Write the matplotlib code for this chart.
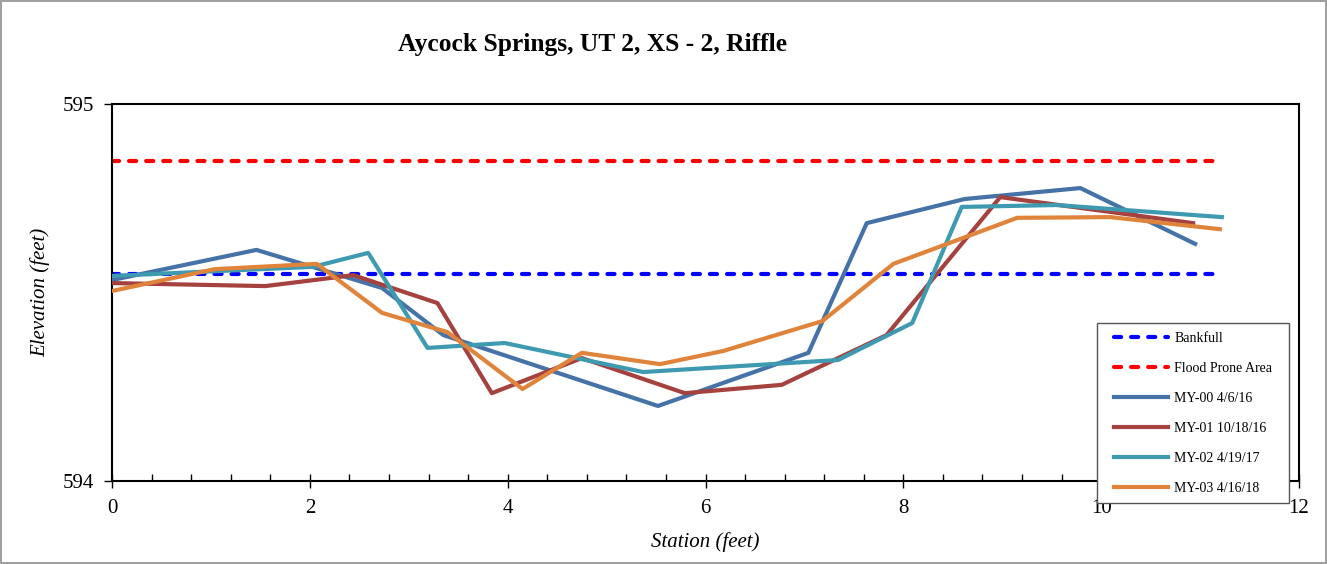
import numpy as np
import matplotlib
matplotlib.use("Agg")
import matplotlib.pyplot as plt
from matplotlib.patches import Rectangle
from matplotlib.ticker import MultipleLocator

plt.rcParams['font.family'] = ['Liberation Serif', 'DejaVu Serif']

# reference elevations (feet)
bankfull_x = [0, 11.13]
bankfull_y = [594.549, 594.549]
flood_x = [0, 11.13]
flood_y = [594.849, 594.849]

# surveyed cross sections: station (ft) and elevation (ft)
my00_x = [0, 1.46, 2.73, 3.35, 5.52, 7.04, 7.63, 8.62, 9.79, 10.95]
my00_y = [594.533, 594.613, 594.512, 594.387, 594.199, 594.340, 594.684, 594.748, 594.777, 594.629]

my01_x = [0, 1.55, 2.44, 3.29, 3.84, 4.75, 5.79, 6.77, 7.83, 8.98, 10.93]
my01_y = [594.525, 594.517, 594.546, 594.472, 594.233, 594.326, 594.233, 594.255, 594.387, 594.753, 594.684]

my02_x = [0, 1.0, 2.03, 2.59, 3.19, 3.97, 5.37, 7.34, 8.09, 8.59, 9.55, 11.22]
my02_y = [594.544, 594.556, 594.568, 594.605, 594.353, 594.366, 594.289, 594.321, 594.419, 594.727, 594.732, 594.700]

my03_x = [0, 1.04, 2.07, 2.73, 3.39, 4.15, 4.75, 5.54, 6.18, 7.18, 7.90, 9.15, 10.09, 11.20]
my03_y = [594.504, 594.562, 594.576, 594.446, 594.395, 594.244, 594.340, 594.310, 594.345, 594.424, 594.576, 594.698, 594.700, 594.668]

W, H = 1327, 564
fig = plt.figure(figsize=(W / 100, H / 100), dpi=100)
fig.patch.set_edgecolor('#a0a0a0')
fig.patch.set_linewidth(1.5)
ax = fig.add_axes([112 / W, 1 - 481 / H, 1187 / W, 377 / H])

dash = (1.7, 2.4)
ax.plot(bankfull_x, bankfull_y, color='#0000ff', lw=3, ls=(0, dash),
        dash_capstyle='round', label='Bankfull', zorder=2)
ax.plot(flood_x, flood_y, color='#ff0000', lw=3, ls=(0, dash),
        dash_capstyle='round', label='Flood Prone Area', zorder=2)
ax.plot(my00_x, my00_y, color='#4572a7', lw=3, label='MY-00 4/6/16', zorder=3)
ax.plot(my01_x, my01_y, color='#a5423f', lw=3, label='MY-01 10/18/16', zorder=3)
ax.plot(my02_x, my02_y, color='#3e9ab1', lw=3, label='MY-02 4/19/17', zorder=3)
ax.plot(my03_x, my03_y, color='#e0843b', lw=3, label='MY-03 4/16/18', zorder=3)

ax.set_xlim(0, 12)
ax.set_ylim(594, 595)
ax.xaxis.set_major_locator(MultipleLocator(2))
ax.xaxis.set_minor_locator(MultipleLocator(0.4))
ax.yaxis.set_major_locator(MultipleLocator(1))
ax.tick_params(axis='x', which='major', direction='inout', length=10, width=1, labelsize=15, pad=8)
ax.tick_params(axis='x', which='minor', direction='in', length=5, width=1)
ax.tick_params(axis='y', which='major', direction='out', length=6, width=1, labelsize=15, pad=7)
for s in ax.spines.values():
    s.set_linewidth(1.5)

ax.set_xlabel('Station (feet)', fontsize=15, style='italic', labelpad=10)
ax.set_ylabel('Elevation (feet)', fontsize=15, style='italic', labelpad=9)

fig.text(593 / W, 1 - 44 / H, 'Aycock Springs, UT 2, XS - 2, Riffle',
         ha='center', va='center', fontsize=18.4, fontweight='bold')

# legend box sits over the lower right corner of the plot area
box = Rectangle((1097 / W, 1 - 503 / H), 192 / W, 180 / H, transform=fig.transFigure,
                facecolor='white', edgecolor='#555555', lw=1.0, zorder=4)
fig.add_artist(box)
handles, labels = ax.get_legend_handles_labels()
leg = fig.legend(handles, labels, loc='upper left', bbox_to_anchor=(1114 / W, 1 - 332 / H),
                 bbox_transform=fig.transFigure, borderaxespad=0, borderpad=0, fontsize=10,
                 frameon=False, handlelength=3.9, labelspacing=1.22, handletextpad=0.45)
leg.set_zorder(5)

fig.savefig('out.png', dpi=100)
